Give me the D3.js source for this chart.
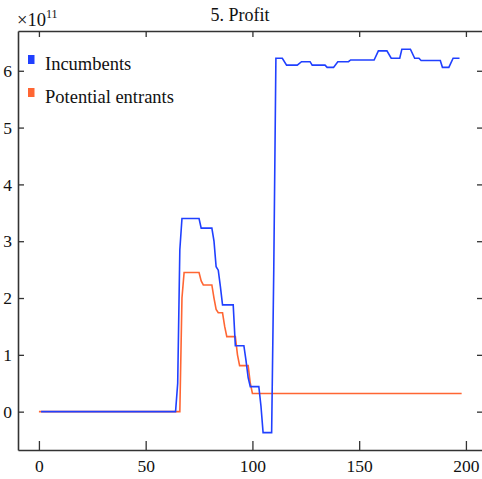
<!DOCTYPE html>
<html>
<head>
<meta charset="utf-8">
<script src="https://cdn.jsdelivr.net/npm/d3@7"></script>
<style>
  html, body { margin: 0; padding: 0; background: #fff; }
  svg text { font-family: "Liberation Serif", "Times New Roman", "DejaVu Serif", serif !important; fill: #111; }
</style>
</head>
<body>
<svg id="chart" width="482" height="479"></svg>
<script>
// ---- data (values in units of 1e11) ----
const title = "5. Profit";
const seriesNames = ["Incumbents", "Potential entrants"];
const seriesColors = ["#2040ff", "#ff6633"];

const incumbentsX = [1, 64, 65, 66, 67, 75, 76, 81, 82, 83, 84, 85, 86, 91, 92, 96, 97, 98, 99, 103, 104, 105, 109, 110, 111, 114, 116, 121, 123, 127, 128, 134, 135, 138, 140, 145, 146, 157, 159, 163, 165, 169, 170, 174, 176, 178, 179, 188, 189, 192, 194, 197];
const incumbentsY = [0, 0, 0.5, 2.85, 3.4, 3.4, 3.23, 3.23, 3.0, 2.55, 2.49, 2.2, 1.88, 1.88, 1.16, 1.16, 0.9, 0.6, 0.44, 0.44, 0.1, -0.37, -0.37, 2.5, 6.22, 6.22, 6.10, 6.10, 6.16, 6.16, 6.10, 6.10, 6.06, 6.06, 6.16, 6.16, 6.19, 6.19, 6.35, 6.35, 6.22, 6.22, 6.38, 6.38, 6.22, 6.22, 6.18, 6.18, 6.06, 6.06, 6.22, 6.22];

const entrantsX = [0, 66, 67, 68, 75, 76, 77, 81, 82, 83, 84, 86, 87, 88, 92, 93, 94, 98, 99, 100, 198];
const entrantsY = [0, 0, 2.0, 2.45, 2.45, 2.3, 2.23, 2.23, 2.0, 1.8, 1.74, 1.74, 1.5, 1.32, 1.32, 1.0, 0.81, 0.81, 0.5, 0.32, 0.32];

const xTicks = [0, 50, 100, 150, 200];
const yTicks = [0, 1, 2, 3, 4, 5, 6];
const exponentBase = "\u00d710";
const exponent = "11";

// ---- layout ----
const serif = '"Liberation Serif", "Times New Roman", "DejaVu Serif", serif';
const plotLeft = 18, plotRight = 483, plotTop = 31, plotBottom = 450;
const svg = d3.select("#chart");

const x = d3.scaleLinear().domain([-9.8, 208]).range([plotLeft, plotRight]);
const y = d3.scaleLinear().domain([-0.675, 6.70]).range([plotBottom, plotTop]);

// lines
const line = d3.line().x(d => x(d[0])).y(d => y(d[1]));
const entrants = entrantsX.map((v, i) => [v, entrantsY[i]]);
const incumbents = incumbentsX.map((v, i) => [v, incumbentsY[i]]);

svg.append("path").datum(entrants)
  .attr("d", line).attr("fill", "none")
  .attr("stroke", seriesColors[1]).attr("stroke-width", 1.6);
svg.append("path").datum(incumbents)
  .attr("d", line).attr("fill", "none")
  .attr("stroke", seriesColors[0]).attr("stroke-width", 1.6);

// axes (ticks inside)
const axisColor = "#333";
const gB = svg.append("g").attr("transform", `translate(0,${plotBottom})`)
  .call(d3.axisBottom(x).tickValues(xTicks).tickSizeInner(-9).tickSizeOuter(0).tickPadding(10));
const gT = svg.append("g").attr("transform", `translate(0,${plotTop})`)
  .call(d3.axisTop(x).tickValues(xTicks).tickSizeInner(-6).tickSizeOuter(0).tickFormat(""));
const gL = svg.append("g").attr("transform", `translate(${plotLeft},0)`)
  .call(d3.axisLeft(y).tickValues(yTicks).tickSizeInner(-6).tickSizeOuter(0).tickPadding(6));
const gR = svg.append("g").attr("transform", `translate(${plotRight},0)`)
  .call(d3.axisRight(y).tickValues(yTicks).tickSizeInner(-6).tickSizeOuter(0).tickFormat(""));

[gB, gT, gL, gR].forEach(g => {
  g.attr("font-family", null);
  g.select(".domain").attr("stroke", axisColor).attr("stroke-width", 1.6);
  g.selectAll(".tick line").attr("stroke", axisColor).attr("stroke-width", 1.3);
  g.selectAll("text").style("font-family", serif).attr("font-size", 17.5).attr("fill", "#111");
});

// title
svg.append("text").attr("x", 240).attr("y", 21).attr("text-anchor", "middle")
  .style("font-family", serif).attr("font-size", 18).text(title);

// exponent
const ex = svg.append("text").attr("x", 17).attr("y", 25.5)
  .style("font-family", serif).attr("font-size", 18.5);
ex.append("tspan").text(exponentBase);
ex.append("tspan").attr("font-size", 12).attr("dy", -7.5).text(exponent);

// legend
const legendY = [70, 103];
seriesNames.forEach((name, i) => {
  svg.append("rect").attr("x", 28).attr("y", legendY[i] - 15).attr("width", 6.5).attr("height", 9)
    .attr("fill", seriesColors[i]);
  svg.append("text").attr("x", 45).attr("y", legendY[i])
    .style("font-family", serif).attr("font-size", 18.5).text(name);
});
</script>
</body>
</html>
